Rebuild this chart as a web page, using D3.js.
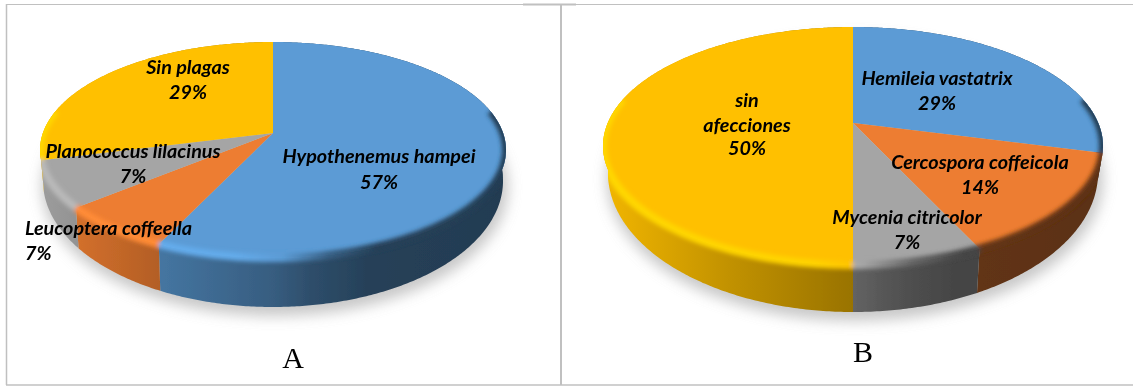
<!DOCTYPE html>
<html>
<head>
<meta charset="utf-8">
<style>
html,body{margin:0;padding:0;background:#fff;}
svg{display:block;}
.lab{font-family:Lato,"Open Sans",sans-serif;font-weight:700;font-style:italic;font-size:19.8px;fill:#000;}
.panel{font-family:"Liberation Serif",serif;font-size:30px;fill:#000;text-anchor:middle;}
</style>
</head>
<body>
<svg id="c" width="1133" height="386"></svg>
<script src="https://cdn.jsdelivr.net/npm/d3@7/dist/d3.min.js"></script>
<script>
const namesA = ["Hypothenemus hampei","Leucoptera coffeella","Planococcus lilacinus","Sin plagas"];
const valuesA = [57,7,7,29];
const namesB = ["Hemileia vastatrix","Cercospora coffeicola","Mycenia citricolor","sin afecciones"];
const valuesB = [29,14,7,50];
const colorsA = ["#5b9bd5","#ed7d31","#a5a5a5","#ffc000"];
const colorsB = ["#5b9bd5","#ed7d31","#a5a5a5","#ffc000"];

const svg = d3.select("#c");
const defs = svg.append("defs");
const blur = (id,s)=>defs.append("filter").attr("id",id).attr("x","-20%").attr("y","-20%").attr("width","140%").attr("height","140%")
  .append("feGaussianBlur").attr("stdDeviation",s);
blur("shadow",7); blur("bevel",2); blur("soft",0.4);

// frame
const frame = svg.append("g").attr("stroke","#c0c0c0").attr("fill","none");
[[6.5,4.5,561,4.5,1],[523,4.5,576,4.5,2],[561,4.5,1133,4.5,1],[6.5,4,6.5,385,1.5],[561,5,561,385,2],[6,385,1133,385,1.5]]
 .forEach(d=>frame.append("line").attr("x1",d[0]).attr("y1",d[1]).attr("x2",d[2]).attr("y2",d[3]).attr("stroke-width",d[4]));

const sideStops = [[0,.95],[.25,.76],[.5,.6],[.58,.5],[.7,.42],[1,.38]];
const bevelStops = [[0,1.12],[.42,1.1],[.52,1],[.62,.62],[.72,.42],[1,.4]];
const shade=(c,k)=>{const r=d3.rgb(c);return d3.rgb(Math.min(255,r.r*k),Math.min(255,r.g*k),Math.min(255,r.b*k)).formatHex();};

function drawPie(id,names,values,colors,g,labels,panel){
  const root = svg.append("g").attr("filter","url(#soft)");
  const line = d3.line();
  const a = g.a;
  const proj=(th,e)=>{
    const u=Math.sin(th),v=-Math.cos(th),d=1+a*v;
    return [e.cx+e.rx*u*Math.sqrt(1-a*a)/d, e.cy+e.ry*(v+a)/d];
  };
  const arcs=d3.pie().sort(null).value(d=>d)(values);
  const samples=(s,e)=>{const n=Math.max(2,Math.ceil((e-s)/0.01));return d3.range(n+1).map(i=>s+(e-s)*i/n);};
  const apex=[g.top.cx,g.top.cy+a*g.top.ry];

  const grad=(gid,c,stops)=>{
    const gr=defs.append("linearGradient").attr("id",gid).attr("gradientUnits","userSpaceOnUse")
      .attr("x1",g.top.cx-g.top.rx).attr("x2",g.top.cx+g.top.rx).attr("y1",0).attr("y2",0);
    stops.forEach(s=>gr.append("stop").attr("offset",s[0]).attr("stop-color",shade(c,s[1])));
  };

  // shadow
  root.append("ellipse").attr("cx",g.bot.cx+2).attr("cy",g.bot.cy+6).attr("rx",g.bot.rx+3).attr("ry",g.bot.ry+3)
    .attr("fill","#9a9a9a").attr("opacity",.55).attr("filter","url(#shadow)");

  const sidePath=d=>{
    const ts=samples(d.startAngle,d.endAngle);
    return line(ts.map(t=>proj(t,g.top)).concat(ts.slice().reverse().map(t=>proj(t,g.bot))))+"Z";
  };
  const clip=defs.append("clipPath").attr("id",id+"clip");
  clip.append("ellipse").attr("cx",g.top.cx).attr("cy",g.top.cy).attr("rx",g.top.rx).attr("ry",g.top.ry);
  arcs.forEach(d=>clip.append("path").attr("d",sidePath(d)));

  // sides
  arcs.forEach((d,i)=>{
    grad(id+"s"+i,colors[i],sideStops);
    grad(id+"b"+i,colors[i],bevelStops);
    root.append("path").attr("d",sidePath(d)).attr("fill",`url(#${id}s${i})`);
  });
  // top face
  arcs.forEach((d,i)=>{
    root.append("path").attr("d",line([apex].concat(samples(d.startAngle,d.endAngle).map(t=>proj(t,g.top))))+"Z").attr("fill",colors[i]);
  });
  // bevel along the rim
  const bev=root.append("g").attr("clip-path",`url(#${id}clip)`).append("g").attr("filter","url(#bevel)");
  arcs.forEach((d,i)=>{
    const ts=samples(d.startAngle,d.endAngle).filter(t=>-Math.cos(t)>-0.22);
    if(ts.length<2) return;
    bev.append("path").attr("d",line(ts.map(t=>proj(t,g.top)))).attr("fill","none")
      .attr("stroke",`url(#${id}b${i})`).attr("stroke-width",g.bw);
  });

  // labels
  labels.forEach(l=>{
    root.append("text").attr("class","lab").attr("x",l.x).attr("y",l.y).attr("text-anchor",l.anchor||"middle").text(l.text);
  });
  root.append("text").attr("class","panel").attr("x",panel.x).attr("y",panel.y).text(panel.text);
}

const pct=(vals,i)=>vals[i]+"%";
drawPie("A",namesA,valuesA,colorsA,
  {a:-0.157,bw:8,top:{cx:273,cy:150,rx:233,ry:108},bot:{cx:273,cy:181,rx:230,ry:126}},
  [
   {text:namesA[0],x:379,y:163},{text:pct(valuesA,0),x:379,y:189},
   {text:namesA[1],x:25,y:235,anchor:"start"},{text:pct(valuesA,1),x:25,y:260,anchor:"start"},
   {text:namesA[2],x:133,y:158},{text:pct(valuesA,2),x:133,y:183},
   {text:namesA[3],x:188,y:74},{text:pct(valuesA,3),x:188,y:99}
  ],{text:"A",x:293,y:368});
drawPie("B",namesB,valuesB,colorsB,
  {a:-0.193,bw:8,top:{cx:853,cy:146,rx:250,ry:119},bot:{cx:853,cy:173,rx:245,ry:139}},
  [
   {text:namesB[0],x:937,y:85},{text:pct(valuesB,0),x:937,y:110},
   {text:namesB[1],x:980,y:169},{text:pct(valuesB,1),x:980,y:194},
   {text:namesB[2],x:907,y:224},{text:pct(valuesB,2),x:907,y:249},
   {text:"sin",x:747,y:107},{text:"afecciones",x:747,y:132},{text:pct(valuesB,3),x:747,y:155}
  ],{text:"B",x:863,y:362});
</script>
</body>
</html>
